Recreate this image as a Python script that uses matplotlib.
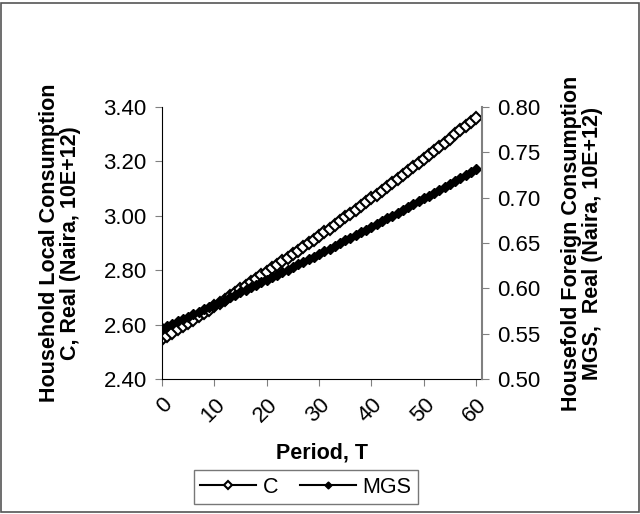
import matplotlib
matplotlib.use("Agg")
import matplotlib.pyplot as plt
from matplotlib.patches import Rectangle

plt.rcParams['font.family'] = ['Liberation Sans', 'DejaVu Sans']

# periods 0..60
period = list(range(61))

# household local consumption C (left axis)
c_vals = [2.5470, 2.5588, 2.5706, 2.5826, 2.5945, 2.6065, 2.6186, 2.6307, 2.6429, 2.6551,
          2.6674, 2.6798, 2.6922, 2.7047, 2.7172, 2.7298, 2.7424, 2.7551, 2.7679, 2.7807,
          2.7936, 2.8065, 2.8195, 2.8325, 2.8457, 2.8588, 2.8721, 2.8854, 2.8987, 2.9122,
          2.9256, 2.9392, 2.9528, 2.9665, 2.9802, 2.9940, 3.0079, 3.0218, 3.0358, 3.0499,
          3.0640, 3.0782, 3.0924, 3.1068, 3.1211, 3.1356, 3.1501, 3.1647, 3.1794, 3.1941,
          3.2089, 3.2237, 3.2386, 3.2536, 3.2687, 3.2838, 3.2991, 3.3143, 3.3297, 3.3451,
          3.3606]

# household foreign consumption MGS (right axis)
mgs_vals = [0.5560, 0.5586, 0.5611, 0.5637, 0.5663, 0.5689, 0.5715, 0.5741, 0.5768, 0.5794,
            0.5821, 0.5848, 0.5874, 0.5901, 0.5929, 0.5956, 0.5983, 0.6011, 0.6038, 0.6066,
            0.6094, 0.6122, 0.6150, 0.6178, 0.6207, 0.6235, 0.6264, 0.6292, 0.6321, 0.6350,
            0.6380, 0.6409, 0.6438, 0.6468, 0.6498, 0.6528, 0.6557, 0.6588, 0.6618, 0.6648,
            0.6679, 0.6710, 0.6740, 0.6771, 0.6802, 0.6834, 0.6865, 0.6897, 0.6928, 0.6960,
            0.6992, 0.7024, 0.7056, 0.7089, 0.7121, 0.7154, 0.7187, 0.7220, 0.7253, 0.7287,
            0.7320]

left_ticks = [2.40, 2.60, 2.80, 3.00, 3.20, 3.40]
right_ticks = [0.50, 0.55, 0.60, 0.65, 0.70, 0.75, 0.80]
x_ticks = [0, 10, 20, 30, 40, 50, 60]

grey = '#808080'

fig = plt.figure(figsize=(6.4, 5.14), dpi=100)
fig.patches.append(Rectangle((0.002, 0.003), 0.996, 0.991, transform=fig.transFigure,
                             fill=False, edgecolor='#555555', linewidth=1.2))

ax = fig.add_axes([0.253, 0.2626, 0.5, 0.5292])
ax2 = ax.twinx()

l1, = ax.plot(period, c_vals, color='black', linewidth=1.5, marker='D', markersize=6.5,
              markerfacecolor='white', markeredgecolor='black', markeredgewidth=1.5, label='C')
l2, = ax2.plot(period, mgs_vals, color='black', linewidth=1.5, marker='D', markersize=5,
               markerfacecolor='black', markeredgecolor='black', label='MGS')

ax.set_xlim(0, 61.1)
ax.set_ylim(2.40, 3.40)
ax2.set_ylim(0.50, 0.80)

ax.set_yticks(left_ticks)
ax.set_yticklabels([f"{v:.2f}" for v in left_ticks])
ax2.set_yticks(right_ticks)
ax2.set_yticklabels([f"{v:.2f}" for v in right_ticks])
ax.set_xticks(x_ticks)
ax.set_xticklabels([str(v) for v in x_ticks], rotation=45, ha='right', va='top',
                   rotation_mode='anchor')

for a in (ax, ax2):
    a.spines['top'].set_visible(False)
ax.spines['right'].set_visible(False)
ax2.spines['left'].set_visible(False)
ax2.spines['bottom'].set_visible(False)
ax.spines['left'].set_color('black')
ax.spines['bottom'].set_color('black')
ax2.spines['right'].set_color(grey)
ax2.spines['right'].set_linewidth(1.5)

ax.tick_params(axis='y', direction='out', length=5, color=grey, labelsize=16, pad=6)
ax.tick_params(axis='x', direction='out', length=5, color=grey, labelsize=16, pad=6)
ax2.tick_params(axis='y', direction='out', length=5, color=grey, labelsize=16, pad=6)

ax.set_ylabel("Household Local Consumption\nC, Real (Naira, 10E+12)", fontsize=15.5,
              fontweight='bold', labelpad=16, linespacing=1.0)
ax2.set_ylabel("Housefold Foreign Consumption\nMGS,  Real (Naira, 10E+12)", fontsize=15.5,
               fontweight='bold', labelpad=15, linespacing=1.0)
ax.set_xlabel("Period, T", fontsize=15.5, fontweight='bold', labelpad=11)

fig.legend(handles=[l1, l2], loc='center', bbox_to_anchor=(0.478, 0.052),
           ncol=2, fontsize=15.5, frameon=True, fancybox=False, edgecolor='#555555',
           handlelength=2.6, columnspacing=1.0, handletextpad=0.3, borderpad=0.3,
           markerscale=0.7)

fig.savefig("out.png", dpi=100)
